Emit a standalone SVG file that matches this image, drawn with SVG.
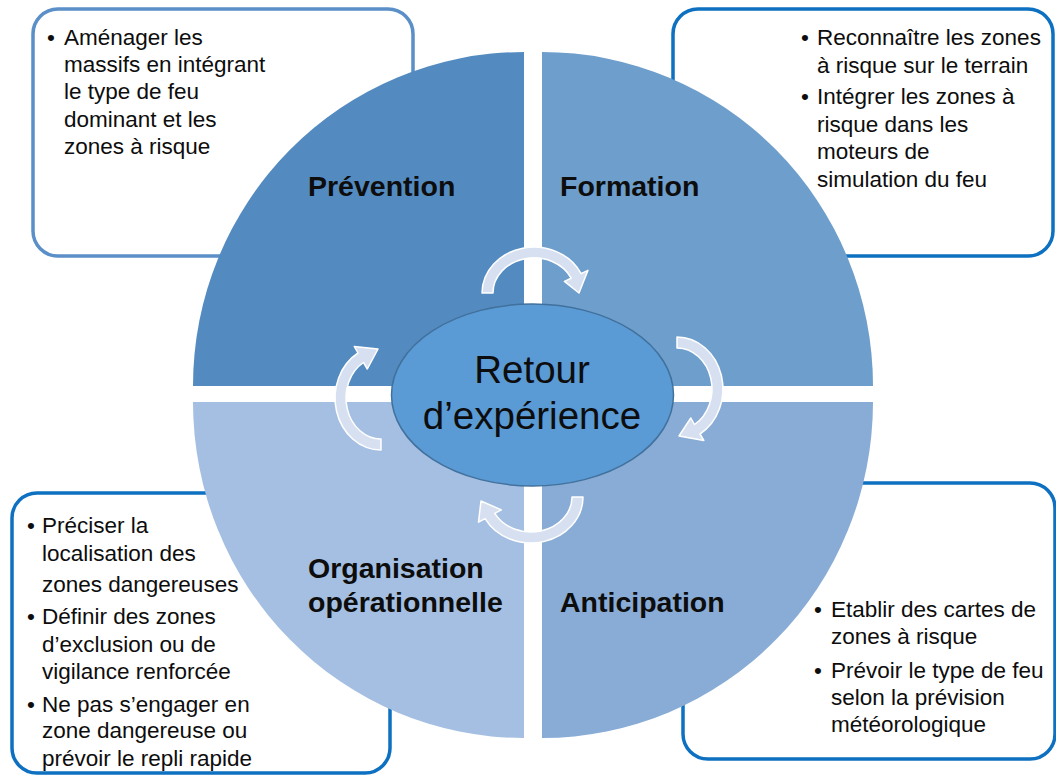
<svg xmlns="http://www.w3.org/2000/svg" width="1056" height="776" viewBox="0 0 1056 776">
<style>
.box{fill:#fff;stroke:#0E70C0;stroke-width:3.5}
.box1{stroke:#5A8FC8}
.body{font-family:"Liberation Sans",Arial,sans-serif;font-size:22.5px;fill:#0D0D0D}
.lbl{font-family:"Liberation Sans",Arial,sans-serif;font-size:28.5px;font-weight:bold;fill:#0D0D0D}
.ctr{font-family:"Liberation Sans",Arial,sans-serif;font-size:38.5px;fill:#0D0D0D;text-anchor:middle}
.arr{fill:#D6E0F0;stroke:#FFFFFF;stroke-width:1.5;stroke-linejoin:round}
</style>
<rect width="1056" height="776" fill="#FFFFFF"/>
<g id="box-prevention">
<rect class="box box1" x="33" y="9" width="380" height="247" rx="25"/>
<text class="body"><tspan x="47" y="45">•</tspan><tspan x="64" y="45">Aménager les</tspan><tspan x="64" y="72.2">massifs en intégrant</tspan><tspan x="64" y="99.4">le type de feu</tspan><tspan x="64" y="126.6">dominant et les</tspan><tspan x="64" y="153.8">zones à risque</tspan></text>
</g>
<g id="box-formation">
<rect class="box" x="673" y="9" width="380" height="247" rx="25"/>
<text class="body"><tspan x="801" y="45">•</tspan><tspan x="817" y="45">Reconnaître les zones</tspan><tspan x="817" y="72.5">à risque sur le terrain</tspan><tspan x="801" y="104">•</tspan><tspan x="817" y="104">Intégrer les zones à</tspan><tspan x="817" y="131.5">risque dans les</tspan><tspan x="817" y="159">moteurs de</tspan><tspan x="817" y="186.5">simulation du feu</tspan></text>
</g>
<g id="box-organisation">
<rect class="box" x="12" y="493" width="378" height="280" rx="25"/>
<text class="body"><tspan x="27" y="533">•</tspan><tspan x="42" y="533">Préciser la</tspan><tspan x="42" y="561">localisation des</tspan><tspan x="42" y="592">zones dangereuses</tspan><tspan x="27" y="624">•</tspan><tspan x="42" y="624">Définir des zones</tspan><tspan x="42" y="652">d’exclusion ou de</tspan><tspan x="42" y="679">vigilance renforcée</tspan><tspan x="27" y="712">•</tspan><tspan x="42" y="712">Ne pas s’engager en</tspan><tspan x="42" y="738">zone dangereuse ou</tspan><tspan x="42" y="766">prévoir le repli rapide</tspan></text>
</g>
<g id="box-anticipation">
<rect class="box" x="683" y="483" width="372" height="276" rx="25"/>
<text class="body"><tspan x="814" y="617">•</tspan><tspan x="831" y="617">Etablir des cartes de</tspan><tspan x="831" y="644">zones à risque</tspan><tspan x="814" y="678">•</tspan><tspan x="831" y="678">Prévoir le type de feu</tspan><tspan x="831" y="705">selon la prévision</tspan><tspan x="831" y="732">météorologique</tspan></text>
</g>
<g id="q-prevention">
<path d="M524,386 L193,386 A331,334 0 0 1 524,52 Z" fill="#538BC1"/>
<text class="lbl" x="308" y="196">Prévention</text>
</g>
<g id="q-formation">
<path d="M542,386 L542,52 A331,334 0 0 1 873,386 Z" fill="#6E9ECC"/>
<text class="lbl" x="560" y="196">Formation</text>
</g>
<g id="q-organisation">
<path d="M524,402 L524,738 A331,336 0 0 1 193,402 Z" fill="#A4BFE2"/>
<text class="lbl"><tspan x="308" y="578">Organisation</tspan><tspan x="308" y="612">opérationnelle</tspan></text>
</g>
<g id="q-anticipation">
<path d="M542,402 L873,402 A331,336 0 0 1 542,738 Z" fill="#88ACD6"/>
<text class="lbl" x="560" y="612">Anticipation</text>
</g>
<g id="connectors">
<path class="arr" d="M482,293 A52,46 0 0 1 581.1,273.6 L587.9,270.4 L579,293 L564.4,281.4 L571.2,278.2 A41,35 0 0 0 493,293 Z"/>
<path class="arr" d="M677,337 A46,52 0 0 1 700,434 L703.8,440.5 L679,436 L690.8,418 L694.5,424.5 A35,41 0 0 0 677,348 Z"/>
<path class="arr" d="M583,497 A52,46 0 0 1 485.1,518.6 L478.5,522.1 L481,501 L501.4,509.9 L494.8,513.4 A41,35 0 0 0 572,497 Z"/>
<path class="arr" d="M381,450 A46,52 0 0 1 358,353 L354.3,346.5 L378,349 L367.3,369 L363.5,362.5 A35,41 0 0 0 381,439 Z"/>
</g>
<g id="center">
<ellipse cx="532.5" cy="395" rx="141" ry="91" fill="#5A9AD5" stroke="#41719C" stroke-width="1.5"/>
<text class="ctr"><tspan x="532" y="383">Retour</tspan><tspan x="532" y="429">d’expérience</tspan></text>
</g>
</svg>
